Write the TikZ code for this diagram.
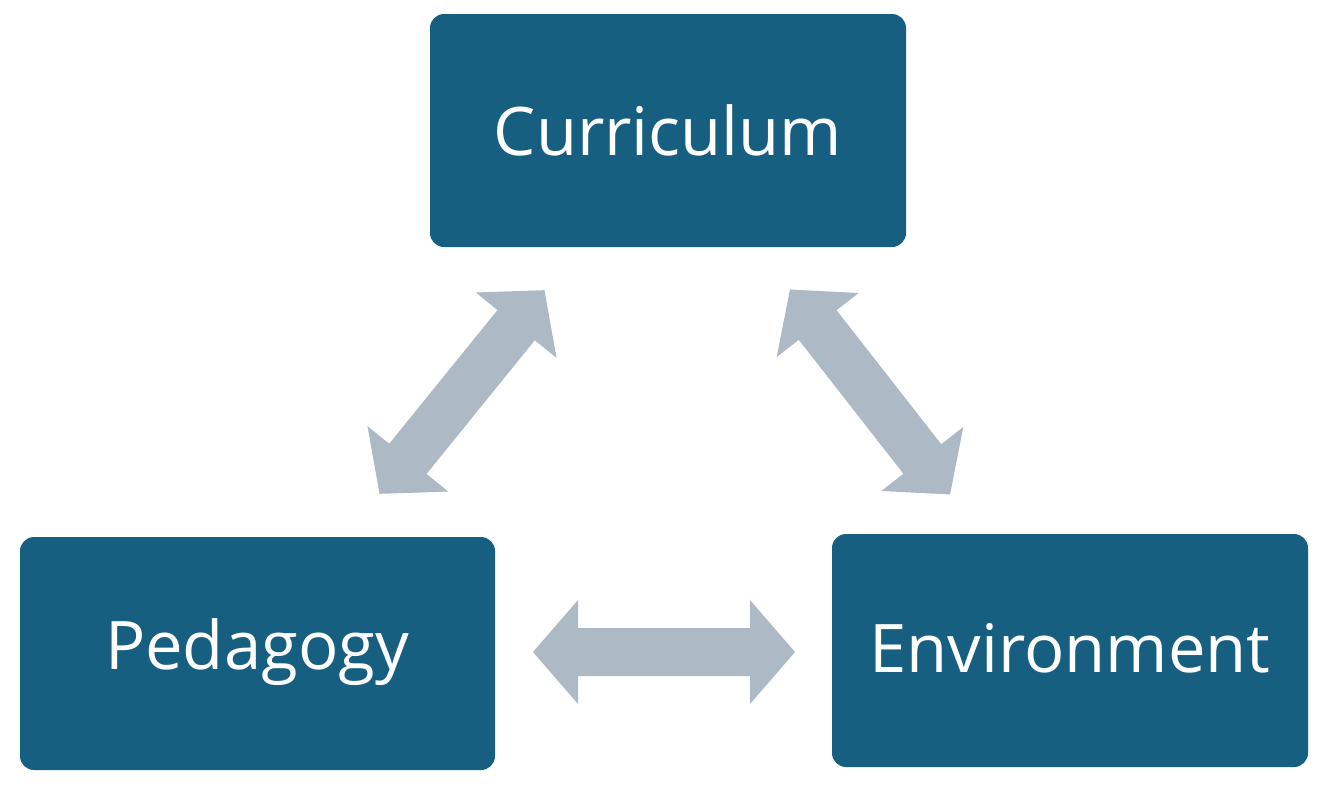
\documentclass[tikz,border=0pt]{standalone}
\usepackage{fontspec}
\setmainfont{Open Sans}
\definecolor{boxc}{HTML}{175F80}
\definecolor{arrc}{HTML}{ADB9C5}
\begin{document}
\begin{tikzpicture}[x=1pt,y=-1pt,
 box/.style={fill=boxc,rounded corners=14pt},
 lab/.style={text=white,font=\fontsize{67}{70}\selectfont},
 darr/.style={fill=arrc}]
\useasboundingbox (0,0) rectangle (1326,788);
\fill[box] (430,14) rectangle (906,247);
\node[lab] (cur) at (668,130) {Curriculum};
\fill[box] (20,537) rectangle (495,770);
\node[lab] (ped) at (257,652) {Pedagogy};
\fill[box] (832,534) rectangle (1308,767);
\node[lab] (env) at (1070,648) {Environment};
\newcommand{\dblarrow}[3]{%
 \begin{scope}[shift={(#1)},rotate=#2]
 \fill[darr] (-#3,0) -- (-#3+45,-52) -- (-#3+45,-24) -- (#3-45,-24) -- (#3-45,-52) -- (#3,0) -- (#3-45,52) -- (#3-45,24) -- (-#3+45,24) -- (-#3+45,52) -- cycle;
 \end{scope}}
\dblarrow{462,392}{51}{131}
\dblarrow{870,392}{-52}{130}
\dblarrow{664,652}{0}{131}
\end{tikzpicture}
\end{document}
